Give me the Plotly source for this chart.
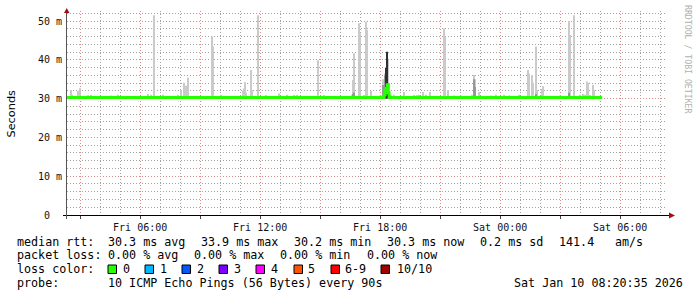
import plotly.graph_objects as go

# ---------------- data ----------------
FRI = "2026-01-09 "
SAT = "2026-01-10 "

x_start = FRI + "02:20:35"
x_end = SAT + "08:20:35"

# light smoke (max ping of each 90s round)
light_times = [FRI + t for t in [
    "02:33", "02:36", "02:54", "02:57", "03:00", "03:24", "03:33", "04:33", "04:54",
    "06:24", "06:33", "06:42", "07:09", "07:54", "08:03", "08:12", "08:18", "08:24",
    "09:36", "09:39", "10:03", "11:09", "11:12", "11:15", "11:18", "11:33", "11:36",
    "11:54", "12:18", "12:57", "13:21", "13:42", "13:51", "14:54", "15:12", "16:36",
    "16:39", "16:42", "16:57", "17:00", "17:12", "17:18", "17:21", "17:33", "18:00",
    "18:09", "18:12", "18:15", "18:18", "18:21", "18:24", "18:27", "18:42", "19:12",
    "19:42", "19:51", "19:57", "20:09", "20:18", "20:30", "21:12", "21:15", "21:24",
    "21:42", "22:03", "22:36", "22:42", "22:45", "22:57", "23:33", "23:48"]] + \
    [SAT + t for t in [
    "00:12", "00:27", "00:57", "01:24", "01:27", "01:36", "01:39", "01:48", "01:51",
    "02:06", "02:09", "03:00", "03:27", "03:30", "03:42", "04:00", "04:09", "04:15",
    "04:21", "04:24", "04:30", "04:39", "04:42"]]
light_tops = [
    32.2, 31.0, 32.0, 31.5, 32.7, 30.9, 31.0, 30.8, 31.0,
    31.2, 31.0, 51.5, 31.0, 31.0, 32.2, 34.1, 33.3, 35.4,
    46.0, 43.4, 31.0, 32.0, 32.6, 34.2, 31.5, 37.4, 32.2,
    51.5, 30.9, 31.3, 31.0, 30.9, 30.9, 39.9, 30.9, 31.0,
    34.8, 41.7, 49.4, 46.8, 30.9, 49.8, 47.7, 32.0, 30.8,
    35.0, 34.0, 36.5, 38.0, 42.3, 40.0, 34.0, 31.0, 31.7,
    30.9, 30.9, 31.0, 31.7, 31.0, 31.7, 48.1, 46.0, 32.2,
    30.8, 30.8, 31.0, 36.1, 35.0, 31.7, 30.8, 31.0,
    31.0, 30.8, 31.0, 37.4, 36.5, 36.1, 34.0, 43.4, 32.2,
    32.5, 33.2, 30.8, 50.0, 46.4, 51.5, 31.0, 31.2, 31.0,
    34.4, 34.0, 30.9, 33.5, 32.2]

# medium smoke
mid_times = [FRI + "16:39", FRI + "16:42", FRI + "18:09", FRI + "18:12", FRI + "18:15",
             FRI + "18:24", FRI + "22:42", FRI + "22:45", SAT + "01:48", SAT + "03:27"]
mid_tops = [31.2, 31.6, 33.5, 32.5, 36.0, 34.0, 35.0, 33.0, 31.2, 31.5]

# dark smoke
dark_times = [FRI + "18:18", FRI + "18:21"]
dark_tops = [37.9, 42.0]

smoke_floor = 30.0

# median rtt (step line)
median_times = [x_start, FRI + "18:09", FRI + "18:12", FRI + "18:15", FRI + "18:18",
                FRI + "18:21", FRI + "18:24", FRI + "18:27", FRI + "18:30", SAT + "05:06"]
median_values = [30.3, 30.5, 31.0, 32.0, 32.6, 33.6, 31.5, 30.4, 30.3, 30.3]

x_tickvals = [FRI + "03:00", FRI + "06:00", FRI + "09:00", FRI + "12:00", FRI + "15:00",
              FRI + "18:00", FRI + "21:00", SAT + "00:00", SAT + "03:00", SAT + "06:00"]
x_ticktext = ["", "Fri 06:00", "", "Fri 12:00", "", "Fri 18:00", "", "Sat 00:00", "", "Sat 06:00"]

y_tickvals = [0, 10, 20, 30, 40, 50]
y_ticktext = ["0\u00a0\u00a0", "10 m", "20 m", "30 m", "40 m", "50 m"]

rtt_head = "median rtt:"
rtt_stats = ["30.3 ms avg", "33.9 ms max", "30.2 ms min", "30.3 ms now", "0.2 ms sd", "141.4", "am/s"]
loss_head = "packet loss:"
loss_stats = ["0.00 % avg", "0.00 % max", "0.00 % min", "0.00 % now"]
color_head = "loss color:"
loss_labels = ["0", "1", "2", "3", "4", "5", "6-9", "10/10"]
probe_head = "probe:"
probe_text = "10 ICMP Echo Pings (56 Bytes) every 90s"
stamp_text = "Sat Jan 10 08:20:35 2026"
y_title = "Seconds"
side_text = "RRDTOOL / TOBI OETIKER"

# ---------------- styles / layout ----------------
W, H = 697, 297
L, R, T, B = 67, 30, 11, 82
PW, PH = W - L - R, H - T - B
Y_MAX = 52.58

loss_colors = ["#26ff00", "#00b8ff", "#0059ff", "#7e00ff", "#ff00ff", "#ff5500", "#ff0000", "#a10000"]
box_px = [108, 145, 182, 219, 256, 294, 331, 381]
label_px = [122, 159, 196, 233, 270, 307, 344, 396]
rtt_px = [107, 200, 293, 386, 479, 558, 614]
loss_px = [107, 193, 279, 366]
row_py = [241.5, 255.2, 269.2, 283.2]

MONO = "DejaVu Sans Mono"
FS = 11.7


def fx(px):
    return (px - L) / PW


def fy(py):
    return 1 - (py - T) / PH


fig = go.Figure()

BAR_W = 180000  # 3 minutes in ms


def smoke(times, tops, color):
    fig.add_trace(go.Bar(
        x=times, y=[t - smoke_floor for t in tops], base=[smoke_floor] * len(tops),
        width=[BAR_W] * len(tops), marker=dict(color=color, line=dict(width=0)),
        hoverinfo="skip", showlegend=False))


smoke(light_times, light_tops, "#cacaca")
smoke(mid_times, mid_tops, "#989898")
smoke(dark_times, dark_tops, "#303030")

fig.add_trace(go.Scatter(
    x=median_times, y=median_values, mode="lines", line=dict(color="#26ff00", width=3, shape="hv"),
    hoverinfo="skip", showlegend=False))

MINOR_GRID = "#a2a2a2"
MAJOR_GRID = "#d88c8c"
DASH = "1px,2px"

fig.update_layout(
    width=W, height=H, margin=dict(l=L, r=R, t=T, b=B, autoexpand=False),
    paper_bgcolor="white", plot_bgcolor="white", barmode="overlay",
    showlegend=False,
    font=dict(family=MONO, size=10, color="#111"),
    xaxis=dict(
        type="date", range=[x_start, x_end], tickmode="array",
        tickvals=x_tickvals, ticktext=x_ticktext,
        showgrid=True, gridcolor=MAJOR_GRID, griddash=DASH, gridwidth=1,
        ticks="outside", ticklen=3, tickcolor="#444", tickwidth=1,
        tickfont=dict(family=MONO, size=10, color="#111"),
        minor=dict(tickmode="linear", tick0=FRI + "00:00", dtick=3600000, showgrid=True,
                   gridcolor=MINOR_GRID, griddash=DASH, gridwidth=1, ticks=""),
        showline=False, zeroline=False, fixedrange=True,
    ),
    yaxis=dict(
        range=[0, Y_MAX], tickmode="array", tickvals=y_tickvals, ticktext=y_ticktext,
        showgrid=True, gridcolor=MAJOR_GRID, griddash=DASH, gridwidth=1,
        ticks="", ticklabelstandoff=4,
        tickfont=dict(family=MONO, size=10, color="#111"),
        minor=dict(tickmode="linear", tick0=0, dtick=2, showgrid=True,
                   gridcolor=MINOR_GRID, griddash=DASH, gridwidth=1, ticks=""),
        showline=False, zeroline=False, fixedrange=True,
    ),
)

shapes = []
# axis lines
shapes.append(dict(type="line", xref="paper", yref="paper", x0=fx(63), x1=fx(670),
                   y0=fy(215.5), y1=fy(215.5), line=dict(color="#000", width=1), layer="above"))
shapes.append(dict(type="line", xref="paper", yref="paper", x0=fx(66.5), x1=fx(66.5),
                   y0=fy(219), y1=fy(12), line=dict(color="#555", width=1), layer="above"))
# arrows
ARROW = "#a01010"
shapes.append(dict(type="path", xref="paper", yref="paper",
                   path="M {} {} L {} {} L {} {} Z".format(fx(64), fy(13), fx(69.5), fy(13), fx(66.7), fy(8)),
                   fillcolor=ARROW, line=dict(width=0), layer="above"))
shapes.append(dict(type="path", xref="paper", yref="paper",
                   path="M {} {} L {} {} L {} {} Z".format(fx(669), fy(212.5), fx(669), fy(218.5), fx(675), fy(215.5)),
                   fillcolor=ARROW, line=dict(width=0), layer="above"))
# loss colour boxes
for px, col in zip(box_px, loss_colors):
    shapes.append(dict(type="rect", xref="paper", yref="paper", x0=fx(px), x1=fx(px + 8.5),
                       y0=fy(273.5), y1=fy(265), fillcolor=col, line=dict(color="#000", width=1)))
fig.update_layout(shapes=shapes)

ann = []


def txt(px, py, s, size=FS, color="#000", family=MONO, angle=0, xanchor="left"):
    ann.append(dict(xref="paper", yref="paper", x=fx(px), y=fy(py), text=s, showarrow=False,
                    xanchor=xanchor, yanchor="middle", textangle=angle,
                    font=dict(family=family, size=size, color=color), borderpad=0))


txt(16, row_py[0], rtt_head)
for px, s in zip(rtt_px, rtt_stats):
    txt(px, row_py[0], s)
txt(16, row_py[1], loss_head)
for px, s in zip(loss_px, loss_stats):
    txt(px, row_py[1], s)
txt(16, row_py[2], color_head)
for px, s in zip(label_px, loss_labels):
    txt(px, row_py[2], s)
txt(16, row_py[3], probe_head)
txt(107, row_py[3], probe_text)
txt(513, row_py[3], stamp_text)

txt(10.5, 114, y_title, size=11.3, family="DejaVu Sans", angle=-90, xanchor="center")
txt(688, 59, side_text, size=8.2, color="#b0b0b0", angle=90, xanchor="center")

fig.update_layout(annotations=ann)

fig.write_html("out.html")
